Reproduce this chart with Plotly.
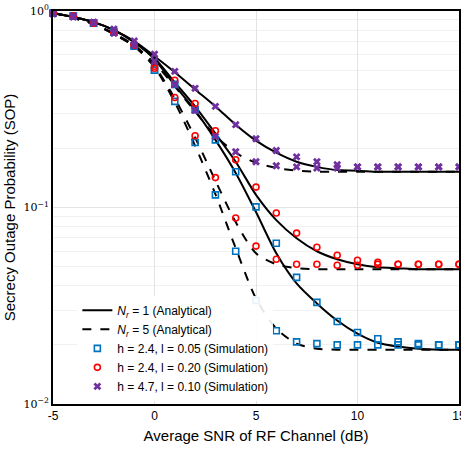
import plotly.graph_objects as go

# Average SNR of RF channel (dB)
snr = list(range(-5, 16))

# Analytical curves, N_r = 1
ana_nr1_h24_l005 = [0.977, 0.932, 0.878, 0.800, 0.694, 0.568, 0.418, 0.312, 0.221, 0.150, 0.0948,
                    0.0585, 0.0411, 0.0325, 0.0266, 0.0228, 0.0205, 0.0196, 0.0191, 0.0189, 0.0189]
ana_nr1_h24_l020 = [0.977, 0.932, 0.878, 0.800, 0.694, 0.575, 0.433, 0.327, 0.238, 0.171, 0.116,
                    0.0863, 0.0698, 0.0599, 0.0545, 0.0514, 0.0497, 0.0491, 0.0485, 0.0485, 0.0485]
ana_nr1_h47_l010 = [0.977, 0.932, 0.878, 0.800, 0.703, 0.589, 0.488, 0.399, 0.327, 0.264, 0.219,
                    0.190, 0.171, 0.161, 0.155, 0.154, 0.152, 0.152, 0.152, 0.152, 0.152]
# Analytical curves, N_r = 5
ana_nr5_h24_l005 = [0.977, 0.921, 0.858, 0.763, 0.662, 0.517, 0.343, 0.206, 0.117, 0.0621, 0.0344,
                    0.0242, 0.0203, 0.0191, 0.0189, 0.0189, 0.0189, 0.0189, 0.0189, 0.0189, 0.0189]
ana_nr5_h24_l020 = [0.977, 0.921, 0.858, 0.763, 0.662, 0.523, 0.359, 0.227, 0.137, 0.0843, 0.0585,
                    0.0514, 0.0491, 0.0485, 0.0485, 0.0485, 0.0485, 0.0485, 0.0485, 0.0485, 0.0485]
ana_nr5_h47_l010 = [0.977, 0.921, 0.858, 0.771, 0.670, 0.542, 0.413, 0.308, 0.232, 0.190, 0.169,
                    0.159, 0.154, 0.152, 0.152, 0.152, 0.152, 0.152, 0.152, 0.152, 0.152]

# Simulation points, N_r = 1
sim_nr1_h24_l005 = [0.977, 0.943, 0.868, 0.781, 0.662, 0.499, 0.423, 0.315, 0.221, 0.152, 0.1007,
                    0.0658, 0.0441, 0.0329, 0.0263, 0.0231, 0.0215, 0.0207, 0.0203, 0.0200, 0.0200]
sim_nr1_h24_l020 = [0.977, 0.943, 0.868, 0.781, 0.678, 0.523, 0.444, 0.338, 0.246, 0.175, 0.127,
                    0.0938, 0.0741, 0.0628, 0.0571, 0.0539, 0.0526, 0.0514, 0.0514, 0.0514, 0.0514]
sim_nr1_h47_l010 = [0.977, 0.943, 0.878, 0.809, 0.703, 0.603, 0.493, 0.404, 0.327, 0.264, 0.224,
                    0.195, 0.181, 0.171, 0.165, 0.161, 0.161, 0.161, 0.161, 0.161, 0.161]
# Simulation points, N_r = 5
sim_nr5_h24_l005 = [0.977, 0.943, 0.868, 0.781, 0.662, 0.499, 0.347, 0.214, 0.116, 0.0599, 0.0336,
                    0.0236, 0.0207, 0.0203, 0.0200, 0.0200, 0.0200, 0.0200, 0.0200, 0.0200, 0.0200]
sim_nr5_h24_l020 = [0.977, 0.943, 0.868, 0.781, 0.670, 0.511, 0.363, 0.232, 0.142, 0.0884, 0.0636,
                    0.0545, 0.0514, 0.0514, 0.0508, 0.0508, 0.0514, 0.0514, 0.0514, 0.0514, 0.0514]
sim_nr5_h47_l010 = [0.966, 0.932, 0.868, 0.771, 0.670, 0.555, 0.423, 0.312, 0.230, 0.192, 0.171,
                    0.163, 0.161, 0.159, 0.159, 0.161, 0.161, 0.161, 0.161, 0.161, 0.161]

# Tick labels
x_tickvals = [-5, 0, 5, 10, 15]
x_ticktext = ["-5", "0", "5", "10", "15"]
y_tickvals = [0.01, 0.1, 1]
y_ticktext = ["10<sup>\u22122</sup>", "10<sup>\u22121</sup>", "10<sup>0</sup>"]

legend_nr1 = "<i>N<sub>r</sub></i> = 1 (Analytical)"
legend_nr5 = "<i>N<sub>r</sub></i> = 5 (Analytical)"
legend_sims = ["h = 2.4, l = 0.05 (Simulation)", "h = 2.4, l = 0.20 (Simulation)",
               "h = 4.7, l = 0.10 (Simulation)"]
sim_colors = ["#0072BD", "#FF0000", "#7030A0"]
sim_symbols = ["square-open", "circle-open", "x"]

fig = go.Figure()

for i, ys in enumerate([ana_nr1_h24_l005, ana_nr1_h24_l020, ana_nr1_h47_l010]):
    fig.add_trace(go.Scatter(x=snr, y=ys, mode="lines", name=legend_nr1, legendgroup="nr1",
                             showlegend=(i == 0),
                             line=dict(color="black", width=2, shape="spline", smoothing=0.8)))
for i, ys in enumerate([ana_nr5_h24_l005, ana_nr5_h24_l020, ana_nr5_h47_l010]):
    fig.add_trace(go.Scatter(x=snr, y=ys, mode="lines", name=legend_nr5, legendgroup="nr5",
                             showlegend=(i == 0),
                             line=dict(color="black", width=2, dash="dash", shape="spline",
                                       smoothing=0.8)))

sims1 = [sim_nr1_h24_l005, sim_nr1_h24_l020, sim_nr1_h47_l010]
sims5 = [sim_nr5_h24_l005, sim_nr5_h24_l020, sim_nr5_h47_l010]
for i in range(3):
    for j, ys in enumerate([sims1[i], sims5[i]]):
        if sim_symbols[i] == "x":
            mk = dict(symbol="x", size=7, color=sim_colors[i], line=dict(width=0))
        else:
            mk = dict(symbol=sim_symbols[i], size=6, color=sim_colors[i], line=dict(width=1.6))
        fig.add_trace(go.Scatter(x=snr, y=ys, mode="markers", name=legend_sims[i],
                                 legendgroup="sim%d" % i, showlegend=(j == 0),
                                 marker=mk, cliponaxis=False))

fig.update_layout(
    width=461, height=452,
    margin=dict(l=53, r=2, t=11, b=48, autoexpand=False),
    paper_bgcolor="white", plot_bgcolor="white",
    font=dict(family="Liberation Sans, Arial, sans-serif", size=12, color="black"),
    legend=dict(x=0.06, y=0.008, xanchor="left", yanchor="bottom",
                bgcolor="rgba(255,255,255,0.9)", borderwidth=0,
                font=dict(size=12), tracegroupgap=0, itemwidth=30),
    showlegend=True,
)
fig.update_xaxes(
    range=[-5, 15], tickvals=x_tickvals, ticktext=x_ticktext, ticks="",
    ticklabeloverflow="allow", automargin=False,
    showgrid=True, gridcolor="#e3e3e3", gridwidth=1, zeroline=False,
    showline=True, linecolor="black", linewidth=2, mirror=True,
    title=dict(text="Average SNR of RF Channel (dB)", font=dict(size=15), standoff=8),
    tickfont=dict(size=12),
)
fig.update_yaxes(
    type="log", range=[-2, 0], automargin=False,
    tickvals=y_tickvals, ticktext=y_ticktext,
    tickfont=dict(family="DejaVu Serif, serif", size=11),
    ticks="", showgrid=True, gridcolor="#e3e3e3", gridwidth=1, zeroline=False,
    minor=dict(dtick="D1", showgrid=True, gridcolor="#f1f1f1", ticks=""),
    showline=True, linecolor="black", linewidth=2, mirror=True,
    title=dict(text="Secrecy Outage Probability (SOP)", font=dict(size=15), standoff=4),
)

fig.write_html("out.html")
